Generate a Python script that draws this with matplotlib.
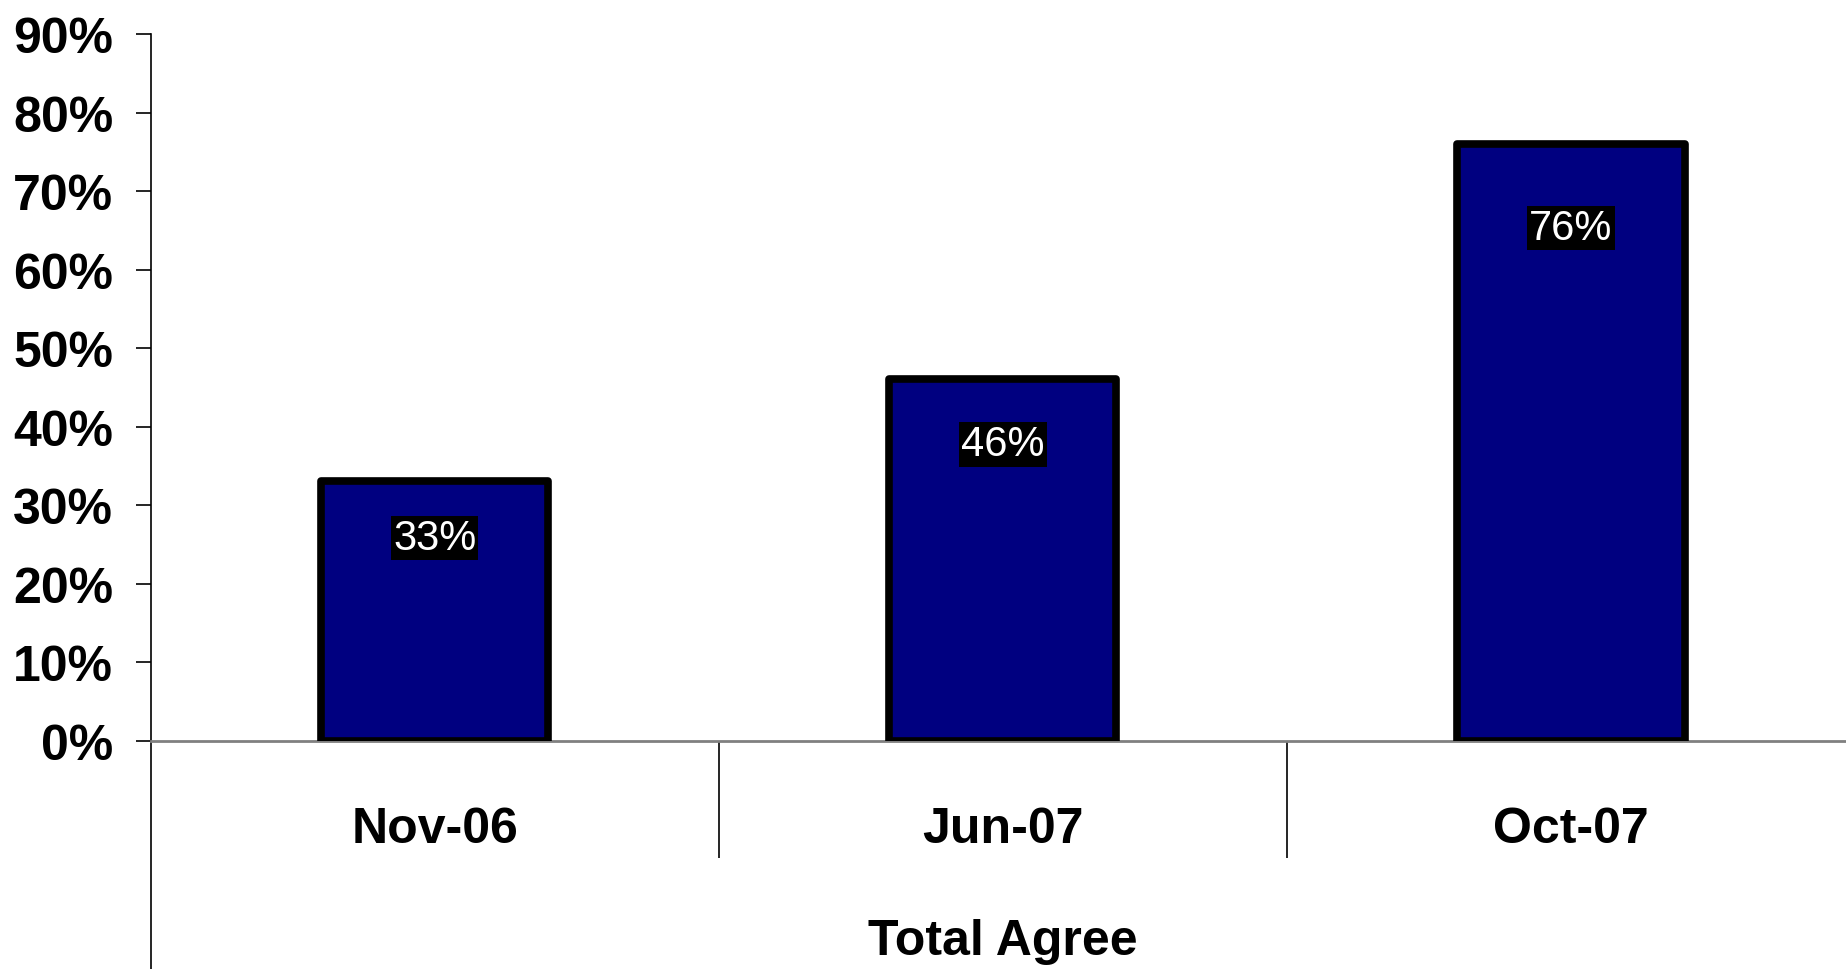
import matplotlib.pyplot as plt
import matplotlib.transforms as mtransforms

# survey results
periods = ["Nov-06", "Jun-07", "Oct-07"]
agree = [33, 46, 76]
yticks = [0, 10, 20, 30, 40, 50, 60, 70, 80, 90]
group_label = "Total Agree"

plt.rcParams['font.family'] = ['Liberation Sans', 'DejaVu Sans']

fig = plt.figure(figsize=(18.46, 9.70), dpi=100)
ax = fig.add_axes([0.0816, 0.2355, 0.9233, 0.7284])

x = list(range(len(periods)))
ax.bar(x, agree, width=0.4, color="#000080", edgecolor="black",
       linewidth=5.5, joinstyle="round", zorder=3)

# data labels sit a little below the top of each bar
for i, v in enumerate(agree):
    ax.text(i, v * 0.92 - 4.6, str(v) + "%", color="white", fontsize=30,
            ha="center", va="center", zorder=4,
            bbox=dict(facecolor="black", edgecolor="none", pad=1.5))

ax.set_xlim(-0.5, len(periods) - 0.5)
ax.set_ylim(0, 90)
ax.set_yticks(yticks)
ax.set_yticklabels([str(t) + "%" for t in yticks], fontsize=36, fontweight="bold")
ax.tick_params(axis="y", length=11, width=1.2, color="black", pad=16)

# category dividers below the baseline
ax.set_xticks(x)
ax.set_xticklabels([])
ax.tick_params(axis="x", which="major", length=0)
ax.set_xticks([i + 0.5 for i in x], minor=True)
ax.tick_params(axis="x", which="minor", length=84, width=1.2, color="black")

trans = mtransforms.blended_transform_factory(ax.transData, ax.transAxes)
for i, p in enumerate(periods):
    ax.text(i, -0.1435, p, transform=trans, ha="center", va="baseline",
            fontsize=36, fontweight="bold")
ax.text(0.5, -0.302, group_label, transform=ax.transAxes, ha="center",
        va="baseline", fontsize=36, fontweight="bold")

ax.axvline(-0.5, ymin=-0.35, ymax=0, color="black", linewidth=1.2, clip_on=False)

for s in ["top", "right"]:
    ax.spines[s].set_visible(False)
ax.spines["left"].set_linewidth(1.2)
ax.spines["bottom"].set_color("#808080")
ax.spines["bottom"].set_linewidth(2)

fig.savefig("out.png", dpi=100, facecolor="white")
